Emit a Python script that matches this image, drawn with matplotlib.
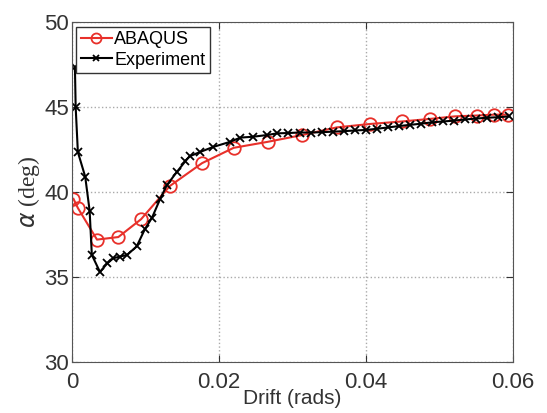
import matplotlib
matplotlib.use("Agg")
import matplotlib.pyplot as plt

abaqus_x = [0.0002, 0.0008, 0.0034, 0.0063, 0.0094, 0.0133, 0.0177, 0.0220,
            0.0266, 0.0313, 0.0360, 0.0405, 0.0449, 0.0487, 0.0521, 0.0551,
            0.0574, 0.0593]
abaqus_y = [39.6, 39.06, 37.2, 37.35, 38.4, 40.35, 41.7, 42.6,
            42.95, 43.35, 43.8, 44.0, 44.15, 44.3, 44.45, 44.5,
            44.55, 44.55]

exp_x = [0.0004, 0.0005, 0.0008, 0.0018, 0.0024, 0.0027, 0.0038, 0.0048,
         0.0056, 0.0065, 0.0075, 0.0088, 0.0099, 0.0109, 0.0120, 0.0129,
         0.0143, 0.0154, 0.0160, 0.0174, 0.0192, 0.0215, 0.0229, 0.0246,
         0.0265, 0.0279, 0.0294, 0.0310, 0.0325, 0.0340, 0.0355, 0.0370,
         0.0385, 0.0400, 0.0415, 0.0430, 0.0445, 0.0460, 0.0475, 0.0490,
         0.0505, 0.0520, 0.0535, 0.0550, 0.0565, 0.0580, 0.0595]
exp_y = [47.35, 45.0, 42.35, 40.9, 38.9, 36.3, 35.3, 35.8,
         36.1, 36.2, 36.3, 36.8, 37.8, 38.5, 39.6, 40.4,
         41.2, 41.8, 42.1, 42.35, 42.65, 42.95, 43.2, 43.25,
         43.35, 43.45, 43.47, 43.5, 43.5, 43.52, 43.55, 43.58,
         43.62, 43.65, 43.72, 43.8, 43.88, 43.95, 44.02, 44.1,
         44.15, 44.2, 44.27, 44.32, 44.37, 44.4, 44.45]

xticks = [0, 0.02, 0.04, 0.06]
xticklabels = ["0", "0.02", "0.04", "0.06"]
yticks = [30, 35, 40, 45, 50]

fig = plt.figure(figsize=(5.47, 4.13), dpi=100)
ax = fig.add_axes([0.1316, 0.1235, 0.8064, 0.8232])

ax.plot(abaqus_x, abaqus_y, color="#e8302a", marker="o", markersize=9,
        markerfacecolor="none", markeredgewidth=1.3, linewidth=1.5,
        label="ABAQUS")
ax.plot(exp_x, exp_y, color="black", marker="x", markersize=6,
        markeredgewidth=1.3, linewidth=1.5, label="Experiment")

ax.set_xlim(0, 0.06)
ax.set_ylim(30, 50)
ax.set_xticks(xticks)
ax.set_xticklabels(xticklabels)
ax.set_yticks(yticks)
ax.grid(True, linestyle=":", color="#aaaaaa", linewidth=1.0)
ax.tick_params(direction="in", labelsize=16, length=5, colors="#333333",
               labelcolor="#333333", top=True, right=True)
ax.tick_params(axis="x", pad=7)
ax.tick_params(axis="y", pad=2)
for lab in ax.get_xticklabels() + ax.get_yticklabels():
    lab.set_family("Liberation Sans")
for s in ax.spines.values():
    s.set_color("#555555")

ax.set_xlabel("Drift (rads)", fontsize=15, family="Liberation Sans",
              color="#333333", labelpad=-3)
ax.set_ylabel(r"$\alpha$ (deg)", fontsize=17, family="Liberation Serif",
              color="#333333", labelpad=2)

leg = ax.legend(loc="upper left", prop={"family": "Liberation Sans", "size": 13},
                handlelength=1.7, handletextpad=0.15, borderpad=0.25,
                labelspacing=0.2, fancybox=False, framealpha=1,
                edgecolor="#333333", borderaxespad=0.25, markerscale=0.8)
leg.get_frame().set_linewidth(1.0)

fig.savefig("out.png", dpi=100)
